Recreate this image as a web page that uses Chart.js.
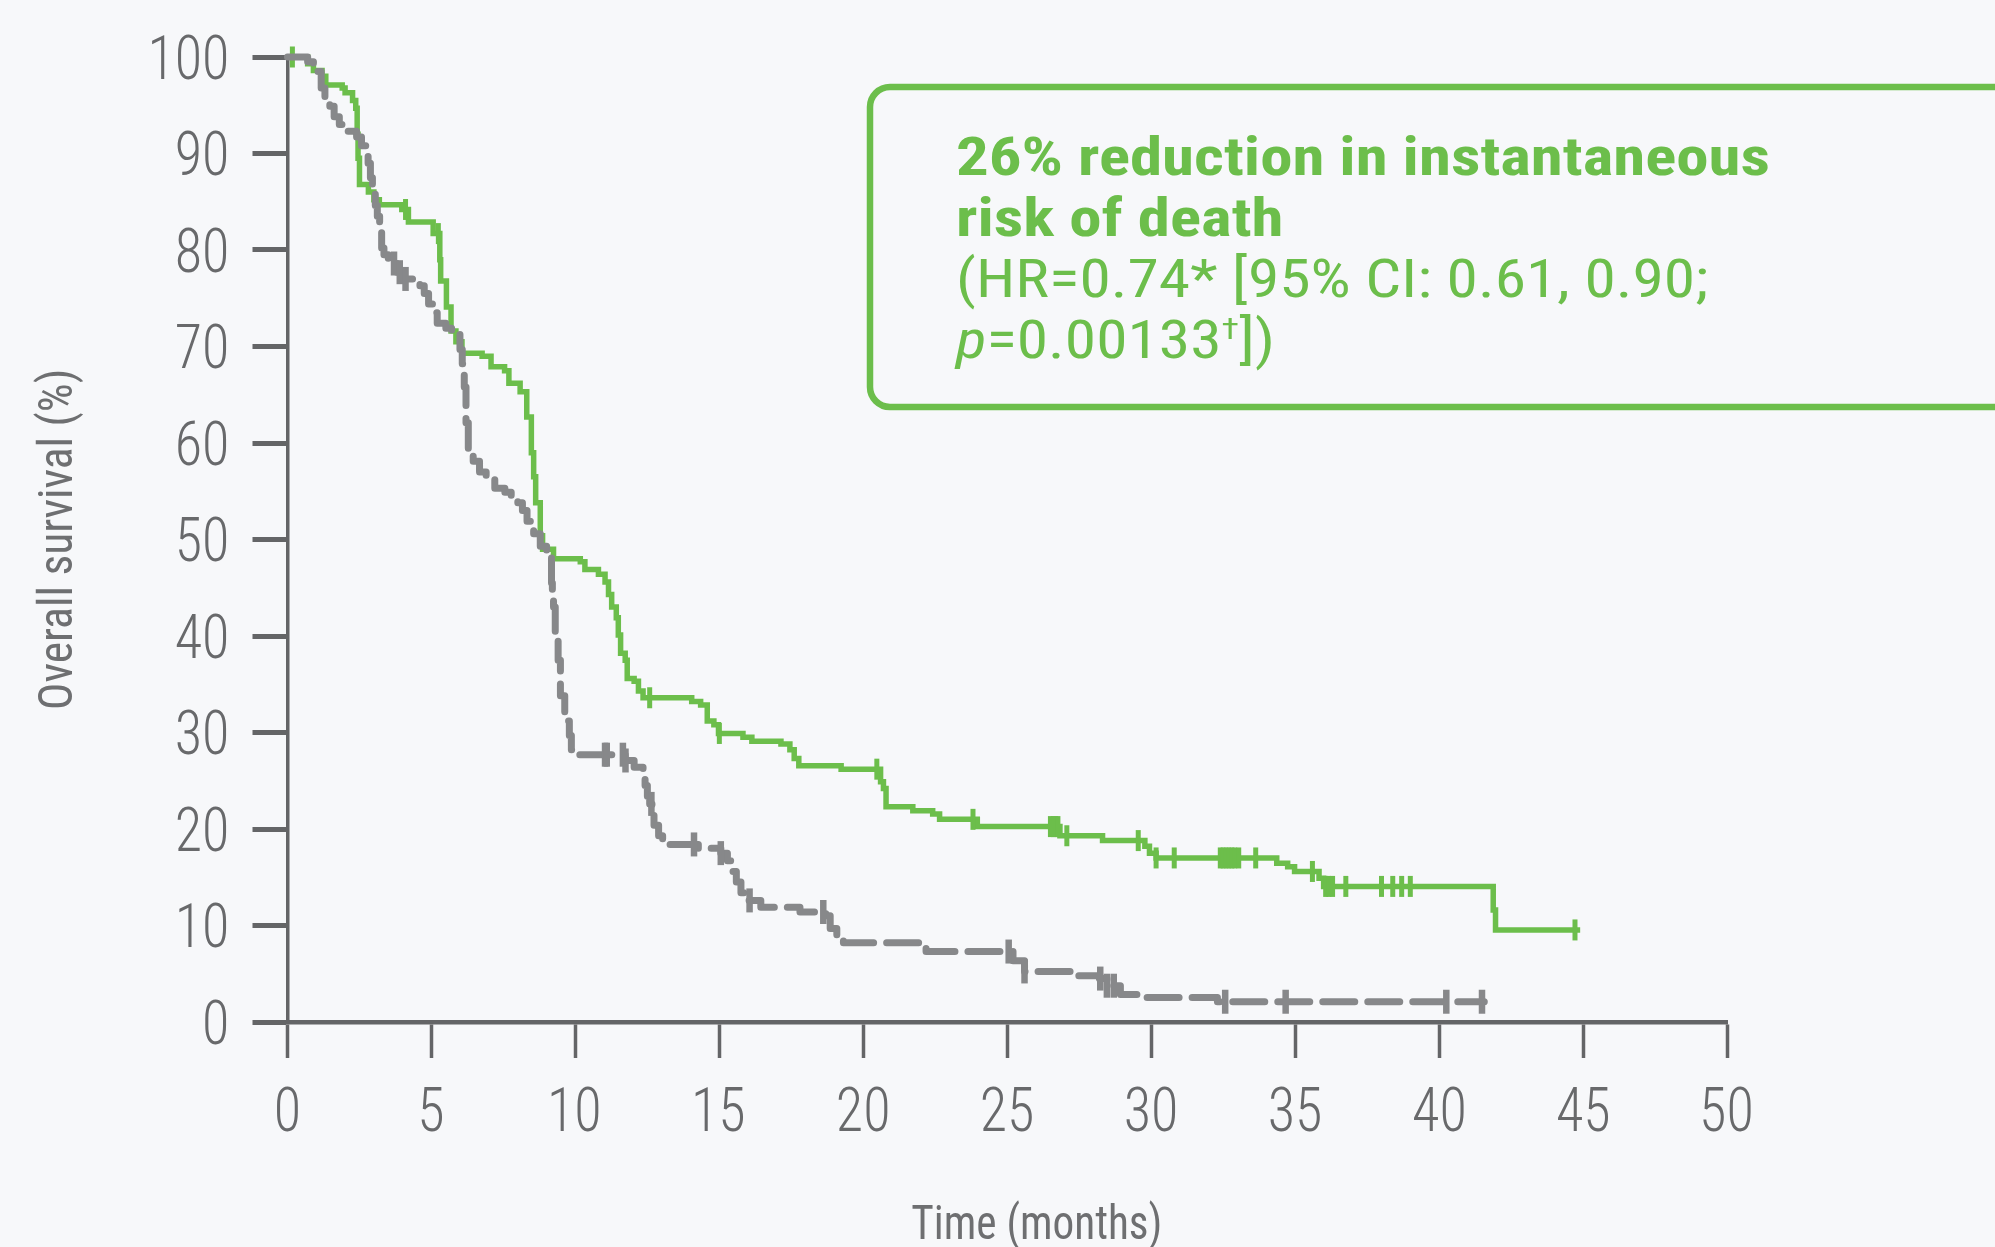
<!DOCTYPE html>
<html><head><meta charset="utf-8">
<script src="https://cdn.jsdelivr.net/npm/chart.js@4/dist/chart.umd.min.js"></script>
<style>html,body{margin:0;padding:0;background:#f7f8fa;}#wrap{width:1995px;height:1247px;}</style>
</head><body><div id="wrap"><canvas id="c" width="1995" height="1247"></canvas></div>
<script>
// ---- data ----
const xTicks = [0,5,10,15,20,25,30,35,40,45,50];
const yTicks = [0,10,20,30,40,50,60,70,80,90,100];
const xTitle = 'Time (months)';
const yTitle = 'Overall survival (%)';

const greenTime = [0,0.7,0.9,1.2,1.33,1.9,2.0,2.26,2.37,2.42,2.45,2.5,2.81,3.0,3.19,3.97,4.2,5.06,5.29,5.32,5.52,5.68,5.85,6.06,6.76,7.07,7.54,7.69,8.08,8.31,8.47,8.55,8.62,8.78,8.86,9.24,10.17,10.33,10.8,11.03,11.15,11.26,11.42,11.49,11.57,11.73,11.8,12.04,12.19,12.35,14.04,14.35,14.58,14.81,14.97,15.82,16.13,17.14,17.45,17.6,17.76,19.23,20.6,20.7,20.79,21.72,22.41,22.65,23.96,26.83,28.31,29.78,29.94,30.17,34.36,34.74,34.98,35.83,35.99,41.88,41.96,44.9];
const greenSurv = [100,99.3,98.6,98.0,97.1,96.8,96.3,95.5,94.7,92.0,89.5,86.8,86.0,85.2,84.7,84.2,82.9,81.7,79.0,76.8,74.1,71.6,70.5,69.3,69.0,67.9,67.5,66.2,65.3,62.7,59.0,56.5,53.8,50.4,49.0,48.0,47.7,46.9,46.4,45.6,44.3,43.0,41.9,40.1,38.2,37.5,35.6,35.3,34.3,33.6,33.2,32.85,31.2,30.8,29.9,29.5,29.1,28.8,28.2,27.3,26.55,26.2,24.9,24.2,22.3,21.9,21.55,21.0,20.25,19.3,18.8,18.2,17.5,17.0,16.46,16.1,15.6,14.9,14.05,11.6,9.54,9.54];
const greenCensor = [0.17,4.1,5.24,12.58,15.0,20.47,23.81,26.5,26.6,26.68,26.76,27.07,29.55,30.17,30.8,32.4,32.5,32.6,32.7,32.8,32.9,33.04,33.63,35.6,36.06,36.17,36.3,36.76,38.0,38.39,38.7,39.0,44.72];

const grayTime = [0,0.7,0.9,1.17,1.3,1.47,1.62,1.8,2.1,2.4,2.57,2.73,2.8,2.88,2.95,3.05,3.12,3.2,3.27,3.35,3.5,3.8,4.0,4.4,4.6,4.75,4.9,5.05,5.2,5.5,5.7,5.99,6.07,6.14,6.2,6.28,6.45,6.67,6.9,7.2,7.55,7.77,8.0,8.16,8.32,8.55,8.78,9.0,9.17,9.2,9.24,9.3,9.4,9.48,9.63,9.79,9.86,10.1,11.73,12.04,12.35,12.42,12.5,12.58,12.66,12.73,12.89,13.03,14.27,15.05,15.28,15.43,15.59,15.75,15.98,16.44,17.8,18.7,18.85,19.08,19.31,22.18,25.2,25.6,27.2,28.2,28.46,28.93,29.63,32.3,41.57];
const graySurv = [100,99.5,98.5,96.8,95.6,94.9,93.8,93.0,92.3,91.7,90.8,89.7,89.0,87.5,86.0,84.6,83.5,82.1,80.2,79.5,78.6,77.7,77.0,76.8,76.3,75.5,74.4,73.5,72.4,71.9,71.5,69.7,68.2,65.8,62.1,59.2,58.1,57.0,56.3,55.3,54.9,54.3,53.8,53.0,51.9,50.6,49.3,48.2,45.5,44.0,43.0,40.1,37.5,33.8,31.2,29.7,28.2,27.7,27.1,26.4,25.6,24.5,23.4,22.6,21.6,20.4,19.3,18.4,18.0,17.5,16.7,15.6,14.5,13.4,12.6,11.9,11.4,11.0,9.7,8.95,8.2,7.3,6.35,5.24,4.8,4.5,3.76,2.84,2.55,2.1,2.1];
const grayCensor = [3.7,3.9,4.1,11.03,11.09,11.65,11.74,12.64,14.12,15.05,16.05,18.61,25.05,25.6,28.23,28.46,28.7,32.57,34.67,40.25,41.49];

const boxLines = [
  {text:'26% reduction in instantaneous', bold:true},
  {text:'risk of death', bold:true},
  {text:'(HR=0.74* [95% CI: 0.61, 0.90;', bold:false},
  {text:'p|=0.00133|†|])', bold:false}
];

// ---- styles ----
const GREEN = '#6cbe4b';
const GRAY = '#87888a';
const AXIS = '#646567';
const TICKTXT = '#68696b';
const TITLETXT = '#6e6f71';
const FAM = "'Roboto Condensed', 'Open Sans', sans-serif";
const TICKFONT = "300 61px " + FAM;
const TITLEFONT = "400 48px " + FAM;

function pts(t, s){ return t.map((x,i)=>({x:x, y:s[i]})); }
function stepAt(t, s, x){ let v = s[0]; for(let i=0;i<t.length;i++){ if(t[i] <= x) v = s[i]; } return v; }
function censorPts(c, t, s){ return c.map(x=>({x:x, y:stepAt(t,s,x)})); }

function inkW(ctx, txt){ const m = ctx.measureText(txt); return m.actualBoundingBoxLeft + m.actualBoundingBoxRight; }
function drawInk(ctx, txt, x, y, sx, align){
  const m = ctx.measureText(txt);
  const L = m.actualBoundingBoxLeft, R = m.actualBoundingBoxRight;
  const w = (L + R) * sx;
  let left = align === 'right' ? x - w : (align === 'center' ? x - w/2 : x);
  ctx.save(); ctx.translate(left, y); ctx.scale(sx, 1); ctx.textAlign = 'left'; ctx.fillText(txt, L, 0); ctx.restore();
}

const bgPlugin = {
  id:'bg',
  beforeDraw(chart){ const ctx=chart.ctx; ctx.save(); ctx.fillStyle='#f7f8fa'; ctx.fillRect(0,0,chart.width,chart.height); ctx.restore(); }
};

const labelPlugin = {
  id:'labels',
  afterDraw(chart){
    const ctx = chart.ctx, xs = chart.scales.x, ys = chart.scales.y;
    ctx.save();
    ctx.textBaseline = 'alphabetic';
    ctx.fillStyle = TICKTXT;
    ctx.font = TICKFONT;
    const sx = 75 / inkW(ctx, '100');
    const cap = 43;
    yTicks.forEach(v => drawInk(ctx, String(v), 227, ys.getPixelForValue(v) + cap/2, sx, 'right'));
    xTicks.forEach(v => drawInk(ctx, String(v), xs.getPixelForValue(v), 1131, sx, 'center'));
    ctx.fillStyle = TITLETXT;
    ctx.font = TITLEFONT;
    const sy = 337 / inkW(ctx, yTitle);
    ctx.save();
    ctx.translate(72, (ys.top + ys.bottom)/2);
    ctx.rotate(-Math.PI/2);
    drawInk(ctx, yTitle, 0, 0, sy, 'center');
    ctx.restore();
    const sxt = 248 / inkW(ctx, xTitle);
    drawInk(ctx, xTitle, (xs.left + xs.right)/2 + 29, 1239, sxt, 'center');
    ctx.restore();
  }
};

const boxPlugin = {
  id:'box',
  afterDraw(chart){
    const ctx = chart.ctx;
    ctx.save();
    ctx.strokeStyle = GREEN; ctx.lineWidth = 6.5;
    ctx.beginPath();
    ctx.roundRect(870, 87, 1160, 320, 20);
    ctx.stroke();
    ctx.fillStyle = GREEN;
    ctx.textBaseline = 'alphabetic';
    const x0 = 956;
    const base = [175, 236, 297, 358];
    const BF = "700 53px " + FAM, RF = "400 53px " + FAM;
    ctx.font = BF;
    const fb = 814 / ctx.measureText(boxLines[0].text).width;
    ctx.font = RF;
    const fr = 752 / ctx.measureText(boxLines[2].text).width;
    boxLines.forEach((ln, i) => {
      ctx.save();
      ctx.translate(x0, base[i]);
      if (ln.bold) {
        ctx.scale(fb, 1); ctx.font = BF; ctx.fillText(ln.text, 0, 0);
      } else if (ln.text.indexOf('|') < 0) {
        ctx.scale(fr, 1); ctx.font = RF; ctx.fillText(ln.text, 0, 0);
      } else {
        ctx.scale(fr, 1);
        const parts = ln.text.split('|');
        let x = 0;
        ctx.font = "italic 400 53px " + FAM; ctx.fillText(parts[0], x, 0); x += ctx.measureText(parts[0]).width;
        ctx.font = RF; ctx.fillText(parts[1], x, 0); x += ctx.measureText(parts[1]).width;
        ctx.font = "400 30px " + FAM; ctx.fillText(parts[2], x, -19); x += ctx.measureText(parts[2]).width;
        ctx.font = RF; ctx.fillText(parts[3], x, 0);
      }
      ctx.restore();
    });
    ctx.restore();
  }
};

const hidden = 'rgba(0,0,0,0)';
new Chart(document.getElementById('c'), {
  type: 'line',
  data: {
    datasets: [
      { label:'Control', data: pts(grayTime, graySurv), borderColor: GRAY, borderWidth: 7, borderDash:[32,13], borderCapStyle:'round', borderJoinStyle:'round', stepped:true, pointRadius:0, fill:false, clip:false, order:1 },
      { label:'Control censored', type:'scatter', data: censorPts(grayCensor, grayTime, graySurv), showLine:false, pointStyle:'line', rotation:90, radius:12, borderColor: GRAY, borderWidth:6.5, backgroundColor: GRAY, clip:false, order:0 },
      { label:'Treatment', data: pts(greenTime, greenSurv), borderColor: GREEN, borderWidth: 5.5, stepped:true, pointRadius:0, fill:false, clip:false, order:3 },
      { label:'Treatment censored', type:'scatter', data: censorPts(greenCensor, greenTime, greenSurv), showLine:false, pointStyle:'line', rotation:90, radius:10.5, borderColor: GREEN, borderWidth:5, backgroundColor: GREEN, clip:false, order:2 }
    ]
  },
  options: {
    responsive:false, animation:false, devicePixelRatio:1,
    layout:{ padding:{ left:5, right:268, top:57, bottom:0 } },
    plugins:{ legend:{display:false}, tooltip:{enabled:false} },
    scales:{
      x:{ type:'linear', min:0, max:50,
        afterBuildTicks(s){ s.ticks = xTicks.map(v=>({value:v})); },
        afterFit(s){ s.height = 225; },
        ticks:{ autoSkip:false, maxRotation:0, color:hidden, font:{ family:FAM, size:20 } },
        grid:{ drawOnChartArea:false, drawTicks:true, tickLength:36, tickWidth:3.5, tickColor:AXIS },
        border:{ display:true, color:AXIS, width:4.5 },
        title:{ display:false, text:xTitle }
      },
      y:{ type:'linear', min:0, max:100,
        afterBuildTicks(s){ s.ticks = yTicks.map(v=>({value:v})); },
        afterFit(s){ s.width = 282.5; },
        ticks:{ autoSkip:false, color:hidden, font:{ family:FAM, size:20 } },
        grid:{ drawOnChartArea:false, drawTicks:true, tickLength:35, tickWidth:5, tickColor:AXIS },
        border:{ display:true, color:AXIS, width:3.5 },
        title:{ display:false, text:yTitle }
      }
    }
  },
  plugins:[bgPlugin, labelPlugin, boxPlugin]
});
</script>
</body></html>
